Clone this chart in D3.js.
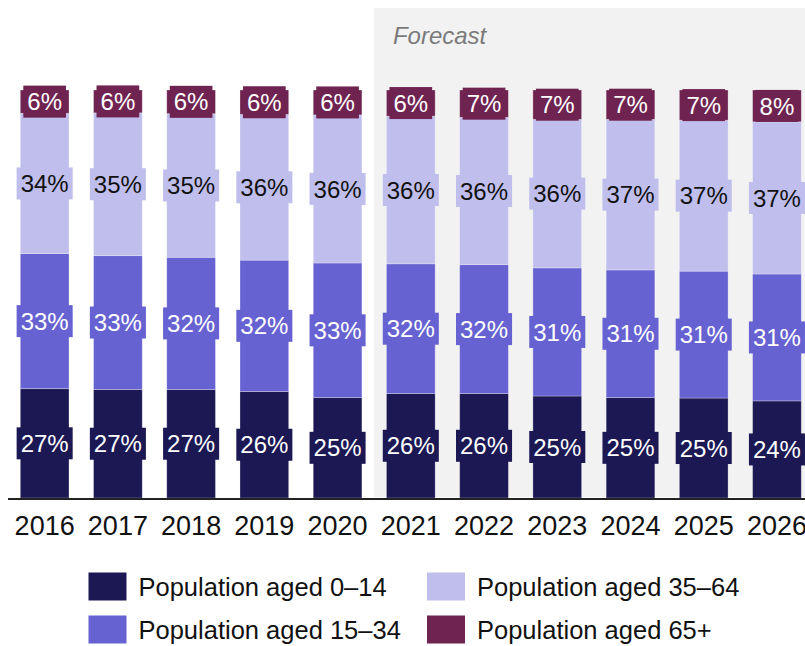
<!DOCTYPE html>
<html>
<head>
<meta charset="utf-8">
<script src="https://cdn.jsdelivr.net/npm/d3@7/dist/d3.min.js"></script>
<style>
  html, body { margin: 0; padding: 0; background: #fff; }
  svg { display: block; font-family: "Liberation Sans", Arial, sans-serif; }
</style>
</head>
<body>
<svg id="chart" width="805" height="646"></svg>
<script>
// Population shares by age group (% of total), 2016–2026; 2021 onwards is forecast
const years = ["2016", "2017", "2018", "2019", "2020", "2021", "2022", "2023", "2024", "2025", "2026"];
const aged0to14  = [26.8, 26.6, 26.6, 26.1, 24.6, 25.6, 25.6, 25.0, 24.6, 24.5, 23.8];
const aged15to34 = [33.1, 32.8, 32.4, 32.2, 33.0, 31.8, 31.6, 31.4, 31.3, 31.1, 31.1];
const aged35to64 = [34.4, 35.0, 35.2, 35.7, 36.3, 36.2, 36.1, 36.4, 36.9, 37.0, 37.3];
const aged65plus = [5.7, 5.6, 5.8, 6.0, 6.1, 6.4, 6.7, 7.2, 7.2, 7.4, 7.8];
const forecastYears = ["2021", "2022", "2023", "2024", "2025", "2026"];

const seriesKeys   = ["a0_14", "a15_34", "a35_64", "a65"];
const seriesNames  = ["Population aged 0–14", "Population aged 15–34", "Population aged 35–64", "Population aged 65+"];
const seriesColors = ["#1b1854", "#6762d1", "#bfbeec", "#6f2350"];
const labelColors  = ["#ffffff", "#ffffff", "#111111", "#ffffff"];

const rows = years.map((y, i) => ({
  year: y,
  a0_14: aged0to14[i],
  a15_34: aged15to34[i],
  a35_64: aged35to64[i],
  a65: aged65plus[i]
}));

const svg = d3.select("#chart");

const x = d3.scaleBand()
  .domain(years)
  .range([20.3, 801.3])
  .paddingInner(0.335)
  .paddingOuter(0);

const y = d3.scaleLinear()
  .domain([0, 100])
  .range([498, 90]);

// Forecast period background
const fStart = x(forecastYears[0]) - (x.step() - x.bandwidth()) / 2 - 0.3;
svg.append("rect")
  .attr("x", fStart)
  .attr("y", 8)
  .attr("width", 805 - fStart)
  .attr("height", 489)
  .attr("fill", "#f2f2f2");

svg.append("text")
  .attr("x", fStart + 19)
  .attr("y", 44)
  .attr("font-size", 24)
  .attr("font-style", "italic")
  .attr("fill", "#7a7a7a")
  .text("Forecast");

const stack = d3.stack().keys(seriesKeys);
const layers = stack(rows);

const layerG = svg.append("g")
  .selectAll("g")
  .data(layers)
  .join("g")
  .attr("fill", (d, i) => seriesColors[i]);

layerG.selectAll("rect")
  .data(d => d)
  .join("rect")
  .attr("x", d => x(d.data.year))
  .attr("width", x.bandwidth())
  .attr("y", d => y(d[1]))
  .attr("height", d => y(d[0]) - y(d[1]))
  .attr("stroke", "rgba(255,255,255,0.35)")
  .attr("stroke-width", 0.8);

// Value labels on boxes of the segment colour
const labelLayer = svg.append("g");
layers.forEach((layer, li) => {
  layer.forEach(d => {
    const cx = x(d.data.year) + x.bandwidth() / 2;
    const cy = (y(d[0]) + y(d[1])) / 2;
    const g = labelLayer.append("g");
    const bg = g.append("rect").attr("fill", seriesColors[li]);
    const t = g.append("text")
      .attr("x", cx)
      .attr("y", cy)
      .attr("dy", "0.36em")
      .attr("text-anchor", "middle")
      .attr("font-size", 24)
      .attr("fill", labelColors[li])
      .text(Math.round(d.data[layer.key]) + "%");
    const bb = t.node().getBBox();
    bg.attr("x", bb.x - 4)
      .attr("y", cy - 16)
      .attr("width", bb.width + 8)
      .attr("height", 32);
  });
});

// Year axis
const xAxis = d3.axisBottom(x).tickSize(0).tickPadding(17);
const axisG = svg.append("g")
  .attr("transform", "translate(0,499)")
  .call(xAxis);
axisG.select(".domain").remove();
axisG.selectAll("text")
  .attr("font-size", 27)
  .attr("font-family", "'Liberation Sans', Arial, sans-serif")
  .attr("fill", "#111");

svg.append("line")
  .attr("x1", 8).attr("x2", 805)
  .attr("y1", 499).attr("y2", 499)
  .attr("stroke", "#222")
  .attr("stroke-width", 2);

// Legend, two columns by two rows
const legendOrder = [0, 2, 1, 3];
const colX = [88.5, 427];
const rowY = [572.5, 615.5];
const legend = svg.append("g");
legendOrder.forEach((si, k) => {
  const cx = colX[k % 2];
  const ry = rowY[Math.floor(k / 2)];
  legend.append("rect")
    .attr("x", cx).attr("y", ry)
    .attr("width", 38).attr("height", 28)
    .attr("fill", seriesColors[si]);
  legend.append("text")
    .attr("x", cx + 50)
    .attr("y", ry + 14)
    .attr("dy", "0.36em")
    .attr("font-size", 25.5)
    .attr("fill", "#111")
    .text(seriesNames[si]);
});
</script>
</body>
</html>
